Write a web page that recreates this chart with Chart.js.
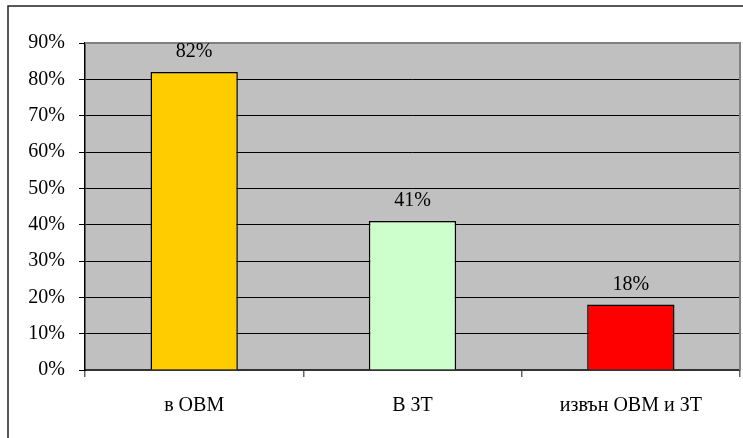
<!DOCTYPE html>
<html>
<head>
<meta charset="utf-8">
<script src="https://cdn.jsdelivr.net/npm/chart.js@4/dist/chart.umd.min.js"></script>
<style>
  html, body { margin: 0; padding: 0; background: #fff; }
  canvas { display: block; }
</style>
</head>
<body>
<canvas id="c" width="743" height="438"></canvas>
<script>
const categories = ['в ОВМ', 'В ЗТ', 'извън ОВМ и ЗТ'];
const shares = [82, 41, 18];
const barColors = ['#FFCC00', '#CCFFCC', '#FF0000'];
const yTicks = [0, 10, 20, 30, 40, 50, 60, 70, 80, 90];

const FONT = "'Liberation Serif', 'Times New Roman', serif";
const FONT_SIZE = 20;

// Grey plot background, plot frame and the outer chart border
const framePlugin = {
  id: 'frame',
  beforeDraw(chart) {
    const { ctx, chartArea: a } = chart;
    ctx.save();
    ctx.fillStyle = '#C0C0C0';
    ctx.fillRect(a.left, a.top, a.right - a.left, a.bottom - a.top);
    ctx.restore();
  },
  afterDatasetsDraw(chart) {
    const { ctx, chartArea: a } = chart;
    ctx.save();
    ctx.strokeStyle = '#808080';
    ctx.lineWidth = 2;
    ctx.beginPath();
    ctx.moveTo(a.left, a.top);
    ctx.lineTo(a.right, a.top);
    ctx.lineTo(a.right, a.bottom);
    ctx.stroke();
    ctx.strokeStyle = '#222';
    ctx.lineWidth = 1.5;
    ctx.strokeRect(8, 6, 760, 460);
    ctx.restore();
  }
};

// Percentage label above each bar
const valueLabels = {
  id: 'valueLabels',
  afterDatasetsDraw(chart) {
    const { ctx } = chart;
    const meta = chart.getDatasetMeta(0);
    ctx.save();
    ctx.font = FONT_SIZE + 'px ' + FONT;
    ctx.fillStyle = '#000';
    ctx.textAlign = 'center';
    ctx.textBaseline = 'middle';
    meta.data.forEach((bar, i) => {
      ctx.fillText(shares[i] + '%', bar.x, bar.y - 20);
    });
    ctx.restore();
  }
};

new Chart(document.getElementById('c'), {
  type: 'bar',
  data: {
    labels: categories,
    datasets: [{
      data: shares,
      backgroundColor: barColors,
      borderColor: '#000',
      borderWidth: 1.5,
      barPercentage: 0.4,
      categoryPercentage: 1.0
    }]
  },
  options: {
    responsive: false,
    animation: false,
    layout: { padding: { left: 0, top: 43, right: 3, bottom: 0 } },
    plugins: {
      legend: { display: false },
      tooltip: { enabled: false }
    },
    scales: {
      x: {
        grid: {
          offset: true,
          drawOnChartArea: false,
          drawTicks: true,
          tickLength: 7,
          color: '#666',
          lineWidth: 1.5
        },
        border: { display: true, color: '#333', width: 2 },
        ticks: {
          color: '#000',
          font: { family: FONT, size: FONT_SIZE },
          padding: 17,
          maxRotation: 0
        },
        afterFit(scale) { scale.height = 68; }
      },
      y: {
        min: 0,
        max: 90,
        afterBuildTicks(scale) { scale.ticks = yTicks.map(v => ({ value: v })); },
        grid: {
          color: '#000',
          lineWidth: 1,
          drawTicks: true,
          tickLength: 6
        },
        border: { display: true, color: '#000', width: 1.5 },
        ticks: {
          color: '#000',
          font: { family: FONT, size: FONT_SIZE },
          padding: 14,
          callback: v => v + '%'
        },
        afterFit(scale) { scale.width = 85; }
      }
    }
  },
  plugins: [framePlugin, valueLabels]
});
</script>
</body>
</html>
